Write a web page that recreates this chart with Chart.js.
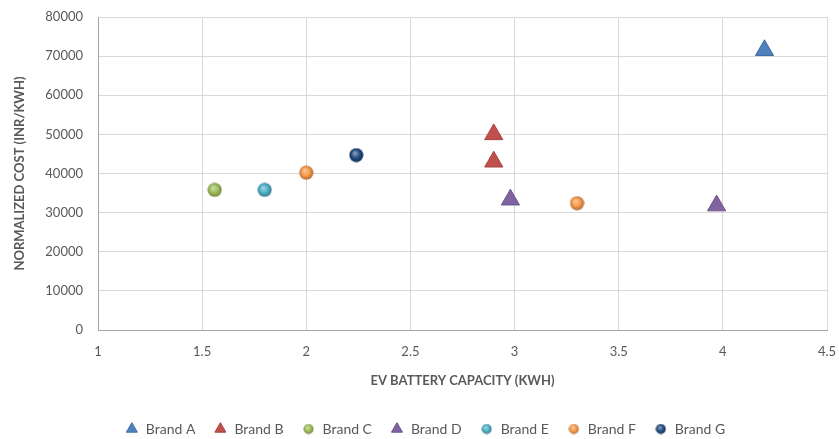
<!DOCTYPE html>
<html>
<head>
<meta charset="utf-8">
<script src="https://cdn.jsdelivr.net/npm/chart.js@4.4.0/dist/chart.umd.min.js"></script>
<style>
  html, body { margin: 0; padding: 0; background: #fff; }
  #wrap { width: 839px; height: 439px; }
</style>
</head>
<body>
<div id="wrap"><canvas id="myScatter" width="839" height="439"></canvas></div>
<script>
// data
var brands = ['Brand A', 'Brand B', 'Brand C', 'Brand D', 'Brand E', 'Brand F', 'Brand G'];
var capacity = [[4.2], [2.9, 2.9], [1.56], [2.98, 3.97], [1.8], [2.0, 3.3], [2.24]];
var cost = [[71500], [50000, 43000], [35800], [33300, 31800], [35800], [40200, 32400], [44700]];
var markers = ['triangle', 'triangle', 'circle', 'triangle', 'circle', 'circle', 'circle'];
var colors = ['#4F81BD', '#C0504D', '#9BBB59', '#8064A2', '#4BACC6', '#F79646', '#1F497D'];
var xTicks = [1, 1.5, 2, 2.5, 3, 3.5, 4, 4.5];
var yTicks = [0, 10000, 20000, 30000, 40000, 50000, 60000, 70000, 80000];

function shade(hex, amt) {
  var n = parseInt(hex.slice(1), 16);
  var r = (n >> 16) & 255, g = (n >> 8) & 255, b = n & 255;
  function f(c) {
    return Math.max(0, Math.min(255, Math.round(amt > 0 ? c + (255 - c) * amt : c * (1 + amt))));
  }
  return 'rgb(' + f(r) + ',' + f(g) + ',' + f(b) + ')';
}

// little shaded ball used as marker
function sphere(color, size) {
  var c = document.createElement('canvas');
  c.width = size; c.height = size;
  var g = c.getContext('2d');
  var r = size / 2;
  var grad = g.createRadialGradient(r * 0.8, r * 0.7, r * 0.1, r, r, r);
  grad.addColorStop(0, shade(color, 0.45));
  grad.addColorStop(0.55, color);
  grad.addColorStop(1, shade(color, -0.35));
  g.beginPath();
  g.arc(r, r, r - 0.5, 0, Math.PI * 2);
  g.fillStyle = grad;
  g.fill();
  return c;
}

var datasets = brands.map(function(name, i) {
  var pts = capacity[i].map(function(x, j) { return { x: x, y: cost[i][j] }; });
  var isBall = markers[i] === 'circle';
  return {
    label: name,
    data: pts,
    pointStyle: isBall ? sphere(colors[i], 15) : 'triangle',
    legendStyle: isBall ? sphere(colors[i], 11) : 'triangle',
    pointRadius: isBall ? 7.5 : 10.5,
    pointHoverRadius: isBall ? 7.5 : 10.5,
    backgroundColor: colors[i],
    borderColor: shade(colors[i], -0.15),
    borderWidth: 1
  };
});

var txt = '#595959';
var ctx = document.getElementById('myScatter').getContext('2d');
var chart = new Chart(ctx, {
  type: 'scatter',
  data: { datasets: datasets },
  options: {
    responsive: false,
    animation: false,
    layout: {
      padding: { left: 23, right: 12, top: 17, bottom: -7 }
    },
    scales: {
      x: {
        type: 'linear',
        min: 1,
        max: 4.5,
        afterBuildTicks: function(scale) {
          scale.ticks = xTicks.map(function(v) { return { value: v }; });
        },
        afterFit: function(scale) {
          scale.height = 74;
          scale.paddingLeft = 0;
          scale.paddingRight = 0;
        },
        grid: { color: '#D9D9D9', drawTicks: false },
        border: { color: '#A6A6A6' },
        ticks: {
          color: txt,
          padding: 14,
          maxRotation: 0,
          autoSkip: false,
          callback: function(v) { return String(v); },
          font: { family: 'Lato', size: 13 }
        },
        title: {
          display: true,
          text: 'EV BATTERY CAPACITY (KWH)',
          color: txt,
          padding: { top: 8, bottom: 15 },
          font: { family: 'Lato', size: 13, weight: 'bold' }
        }
      },
      y: {
        min: 0,
        max: 80000,
        afterBuildTicks: function(scale) {
          scale.ticks = yTicks.map(function(v) { return { value: v }; });
        },
        afterFit: function(scale) {
          scale.width = 75;
          scale.paddingTop = 0;
          scale.paddingBottom = 0;
        },
        grid: { color: '#D9D9D9', drawTicks: false },
        border: { color: '#A6A6A6' },
        ticks: {
          color: txt,
          padding: 15,
          callback: function(v) { return String(v); },
          font: { family: 'Lato', size: 13 }
        },
        title: {
          display: true,
          text: 'NORMALIZED COST (INR/KWH)',
          color: txt,
          padding: { top: -11, bottom: 0 },
          font: { family: 'Lato', size: 13, weight: 'bold' }
        }
      }
    },
    plugins: {
      legend: {
        position: 'bottom',
        labels: {
          usePointStyle: true,
          boxHeight: 9,
          padding: 18,
          color: txt,
          font: { family: 'Lato', size: 14 },
          generateLabels: function(chart) {
            var items = Chart.defaults.plugins.legend.labels.generateLabels(chart);
            items.forEach(function(it) {
              var ds = chart.data.datasets[it.datasetIndex];
              it.pointStyle = ds.legendStyle;
            });
            return items;
          }
        }
      },
      tooltip: { enabled: false }
    }
  }
});
</script>
</body>
</html>
